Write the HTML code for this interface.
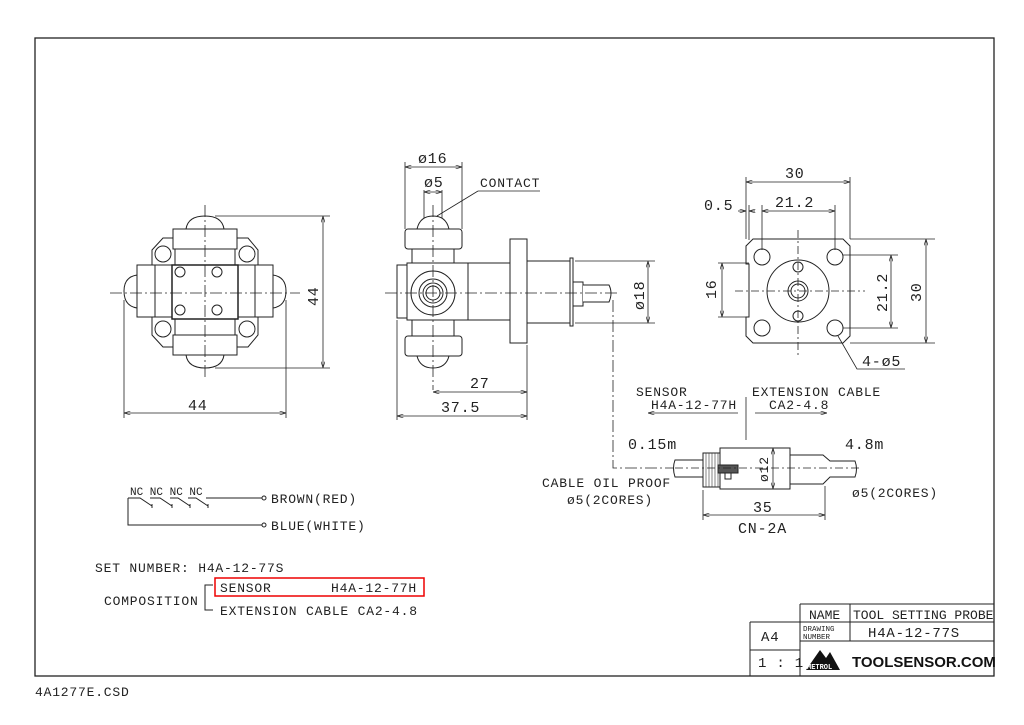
<!DOCTYPE html>
<html><head><meta charset="utf-8"><style>
html,body{margin:0;padding:0;background:#fff}
svg{display:block}
text{font-family:"Liberation Mono","DejaVu Sans Mono",monospace;fill:#222;letter-spacing:0.8px}
</style></head><body>
<svg width="1024" height="725" viewBox="0 0 1024 725" xmlns="http://www.w3.org/2000/svg">
<defs>
<marker id="a" viewBox="0 0 10 6" refX="10" refY="3" markerWidth="8" markerHeight="5" orient="auto-start-reverse"><path d="M0,0 L10,3 L0,6" fill="none" stroke="#222" stroke-width="1"/></marker>
</defs>
<g fill="none" stroke="#222" stroke-width="1">
<rect x="35" y="38" width="959" height="638" stroke-width="1.3"/>
<path d="M800,604 H994 M750,622 H994 M800,641 H994 M750,650 H800 M750,622 V676 M800,604 V676 M850,604 V641"/>
</g>
<text x="809" y="619" font-size="13" style="letter-spacing:0">NAME</text>
<text x="853" y="619" font-size="13" style="letter-spacing:0">TOOL SETTING PROBE</text>
<text x="803" y="631" font-size="7.5" style="letter-spacing:0">DRAWING</text>
<text x="803" y="639" font-size="7.5" style="letter-spacing:0">NUMBER</text>
<text x="868" y="637" font-size="14">H4A-12-77S</text>
<text x="761" y="641" font-size="14">A4</text>
<text x="758" y="667" font-size="14">1 : 1</text>
<path d="M806,670 L820,650 L826,658 L830,652 L840,670 Z" fill="#111"/>
<text x="807" y="669" font-size="7" font-family="Liberation Sans" font-weight="bold" style="fill:#fff;letter-spacing:0">METROL</text>
<text x="852" y="667" font-size="15" font-weight="bold" style="font-family:'Liberation Sans',sans-serif;fill:#111;letter-spacing:0">TOOLSENSOR.COM</text>
<text x="35" y="696" font-size="13">4A1277E.CSD</text>

<!-- LEFT VIEW -->
<g fill="#fff" stroke="#222" stroke-width="1">
<path d="M152,250 L163,238 L248,238 L258,250 L258,335 L248,347 L163,347 L152,335 Z"/>
<rect x="173" y="229" width="64" height="20"/>
<rect x="173" y="335" width="64" height="20"/>
<rect x="137" y="265" width="18" height="52"/>
<rect x="255" y="265" width="18" height="52"/>
<rect x="155" y="265" width="100" height="52"/>
<rect x="175" y="249" width="60" height="86"/>
<rect x="172" y="265" width="66" height="54" stroke-width="1.5"/>
<path d="M186,229 Q188,216 205,216 Q222,216 224,229 Z M186,355 Q188,368 205,368 Q222,368 224,355 Z M137,275 Q124,277 124,291 Q124,306 137,308 Z M273,275 Q286,277 286,291 Q286,306 273,308 Z"/>
<circle cx="163" cy="254" r="8"/><circle cx="247" cy="254" r="8"/><circle cx="163" cy="329" r="8"/><circle cx="247" cy="329" r="8"/>
<circle cx="180" cy="272" r="5"/><circle cx="217" cy="272" r="5"/><circle cx="180" cy="310" r="5"/><circle cx="217" cy="310" r="5"/>
</g>
<g stroke="#222" stroke-width="0.8" fill="none" stroke-dasharray="12,3,2,3">
<path d="M110,293 H300 M205,205 V380"/>
</g>
<g stroke="#222" stroke-width="0.8" fill="none">
<path d="M215,216 H330 M215,368 H330 M124,300 V418 M286,300 V418"/>
<path d="M323,216 V368" marker-start="url(#a)" marker-end="url(#a)"/>
<path d="M124,413 H286" marker-start="url(#a)" marker-end="url(#a)"/>
</g>
<text x="0" y="0" font-size="15" transform="translate(318,306) rotate(-90)">44</text>
<text x="188" y="410" font-size="15">44</text>

<!-- MIDDLE VIEW -->
<g fill="#fff" stroke="#222" stroke-width="1">
<rect x="510" y="239" width="17" height="104"/>
<rect x="527" y="261" width="43" height="62"/>
<rect x="570" y="258" width="3" height="68"/>
<rect x="573" y="282" width="10" height="24"/>
<path d="M583,285 H609 Q613,293 609,302 H583"/>
<rect x="468" y="263" width="42" height="57"/>
<rect x="412" y="240" width="42" height="100"/>
<rect x="397" y="265" width="12" height="53"/>
<rect x="407" y="263" width="61" height="57"/>
<rect x="405" y="229" width="57" height="20" rx="3"/>
<rect x="405" y="336" width="57" height="20" rx="3"/>
<path d="M417,229 Q420,216 433,216 Q446,216 449,229 Z M417,356 Q420,368 433,368 Q446,368 449,356 Z"/>
<circle cx="433" cy="293" r="22"/><circle cx="433" cy="293" r="14"/><circle cx="433" cy="293" r="10"/><circle cx="433" cy="293" r="7"/>
</g>
<g stroke="#222" stroke-width="0.8" fill="none" stroke-dasharray="12,3,2,3">
<path d="M385,293 H620 M433,205 V390"/>
<path d="M613,300 V468 H675"/>
</g>
<g stroke="#222" stroke-width="0.8" fill="none">
<path d="M405,162 V229 M462,162 V229 M424,190 V218 M442,190 V218 M397,320 V420 M527,345 V420 M575,261 H655 M575,323 H655"/>
<path d="M405,167 H462" marker-start="url(#a)" marker-end="url(#a)"/>
<path d="M424,192 H442" marker-start="url(#a)" marker-end="url(#a)"/>
<path d="M478,191 H540 M478,191 L437,216"/>
<path d="M648,261 V323" marker-start="url(#a)" marker-end="url(#a)"/>
<path d="M433,392 H527" marker-start="url(#a)" marker-end="url(#a)"/>
<path d="M397,416 H527" marker-start="url(#a)" marker-end="url(#a)"/>
</g>
<text x="418" y="163" font-size="15">ø16</text>
<text x="424" y="187" font-size="15">ø5</text>
<text x="480" y="187" font-size="13">CONTACT</text>
<text x="0" y="0" font-size="15" transform="translate(644,310) rotate(-90)">ø18</text>
<text x="470" y="388" font-size="15">27</text>
<text x="441" y="412" font-size="15">37.5</text>

<!-- RIGHT VIEW -->
<g fill="#fff" stroke="#222" stroke-width="1">
<path d="M753,239 H843 L850,246 V336 L843,343 H753 L746,336 V317 H749 V264 H746 V246 Z"/>
<circle cx="798" cy="291" r="31"/><circle cx="798" cy="291" r="10"/><circle cx="798" cy="291" r="7"/>
<circle cx="798" cy="267" r="5"/><circle cx="798" cy="316" r="5"/>
<circle cx="762" cy="257" r="8"/><circle cx="835" cy="257" r="8"/><circle cx="762" cy="328" r="8"/><circle cx="835" cy="328" r="8"/>
</g>
<g stroke="#222" stroke-width="0.8" fill="none" stroke-dasharray="8,3,2,3">
<path d="M735,291 H865 M798,230 V355"/>
</g>
<g stroke="#222" stroke-width="0.8" fill="none">
<path d="M746,177 V239 M850,177 V239 M762,205 V250 M835,205 V250 M749,205 V240 M850,239 H935 M850,343 H935 M843,255 H898 M843,328 H898 M718,263 H749 M718,317 H749"/>
<path d="M746,182 H850" marker-start="url(#a)" marker-end="url(#a)"/>
<path d="M762,211 H835" marker-start="url(#a)" marker-end="url(#a)"/>
<path d="M738,211 H746" marker-end="url(#a)"/><path d="M755,211 H749" marker-end="url(#a)"/>
<path d="M722,263 V317" marker-start="url(#a)" marker-end="url(#a)"/>
<path d="M891,255 V328" marker-start="url(#a)" marker-end="url(#a)"/>
<path d="M926,239 V343" marker-start="url(#a)" marker-end="url(#a)"/>
<path d="M838,336 L857,369 H905"/>
</g>
<text x="785" y="178" font-size="15">30</text>
<text x="775" y="207" font-size="15">21.2</text>
<text x="704" y="210" font-size="15">0.5</text>
<text x="0" y="0" font-size="15" transform="translate(716,299) rotate(-90)">16</text>
<text x="0" y="0" font-size="15" transform="translate(887,312) rotate(-90)">21.2</text>
<text x="0" y="0" font-size="15" transform="translate(921,302) rotate(-90)">30</text>
<text x="862" y="366" font-size="15">4-ø5</text>

<!-- CABLE -->
<g fill="#fff" stroke="#222" stroke-width="1">
<path d="M675,460 H703 V477 H675 Q672,468 675,460 Z"/>
<rect x="703" y="453" width="17" height="34"/>
<rect x="720" y="448" width="70" height="41"/>
<path d="M790,455 H823 L830,461 H855 Q858,469 855,477 H830 L823,484 H790 Z"/>
<rect x="718" y="465" width="20" height="8" fill="#555"/>
<rect x="725" y="473" width="6" height="6"/>
</g>
<g stroke="#333" stroke-width="0.6"><path d="M706,453 V487 M709,453 V487 M712,453 V487 M715,453 V487 M718,453 V487"/></g>
<g stroke="#222" stroke-width="0.8" fill="none">
<path d="M675,468 H860" stroke-dasharray="8,3,2,3"/>
<path d="M746,397 V440"/>
<path d="M738,413 H648" marker-end="url(#a)"/>
<path d="M755,413 H827" marker-end="url(#a)"/>
<path d="M773,448 V489" marker-start="url(#a)" marker-end="url(#a)"/>
<path d="M703,490 V520 M825,486 V520"/>
<path d="M703,515 H825" marker-start="url(#a)" marker-end="url(#a)"/>
</g>
<text x="636" y="396" font-size="13">SENSOR</text>
<text x="651" y="409" font-size="13">H4A-12-77H</text>
<text x="752" y="396" font-size="13">EXTENSION CABLE</text>
<text x="769" y="409" font-size="13">CA2-4.8</text>
<text x="628" y="449" font-size="15">0.15m</text>
<text x="845" y="449" font-size="15">4.8m</text>
<text x="0" y="0" font-size="13" transform="translate(768,482) rotate(-90)">ø12</text>
<text x="542" y="487" font-size="13">CABLE OIL PROOF</text>
<text x="567" y="504" font-size="13">ø5(2CORES)</text>
<text x="852" y="497" font-size="13">ø5(2CORES)</text>
<text x="753" y="512" font-size="15">35</text>
<text x="738" y="533" font-size="15">CN-2A</text>

<!-- WIRING -->
<g stroke="#222" stroke-width="1" fill="none">
<path d="M128,498 H140 L152,506 M152,504 V508 M150,498 H160 L172,506 M172,504 V508 M170,498 H178 L190,506 M190,504 V508 M188,498 H196 L208,506 M208,504 V508 M206,498 H262"/>
<path d="M128,498 V525 H262"/>
<circle cx="264" cy="498" r="2"/><circle cx="264" cy="525" r="2"/>
</g>
<text x="130" y="495" font-size="11" style="letter-spacing:0">NC NC NC NC</text>
<text x="271" y="503" font-size="13">BROWN(RED)</text>
<text x="271" y="530" font-size="13">BLUE(WHITE)</text>
<text x="95" y="572" font-size="13">SET NUMBER:  H4A-12-77S</text>
<text x="104" y="605" font-size="13">COMPOSITION</text>
<path d="M213,585 H205 V610 H213" stroke="#222" fill="none"/>
<rect x="215" y="578" width="209" height="18" fill="none" stroke="#e00" stroke-width="1.5"/>
<text x="220" y="592" font-size="13">SENSOR</text>
<text x="331" y="592" font-size="13">H4A-12-77H</text>
<text x="220" y="615" font-size="13">EXTENSION CABLE  CA2-4.8</text>
</svg>
</body></html>
